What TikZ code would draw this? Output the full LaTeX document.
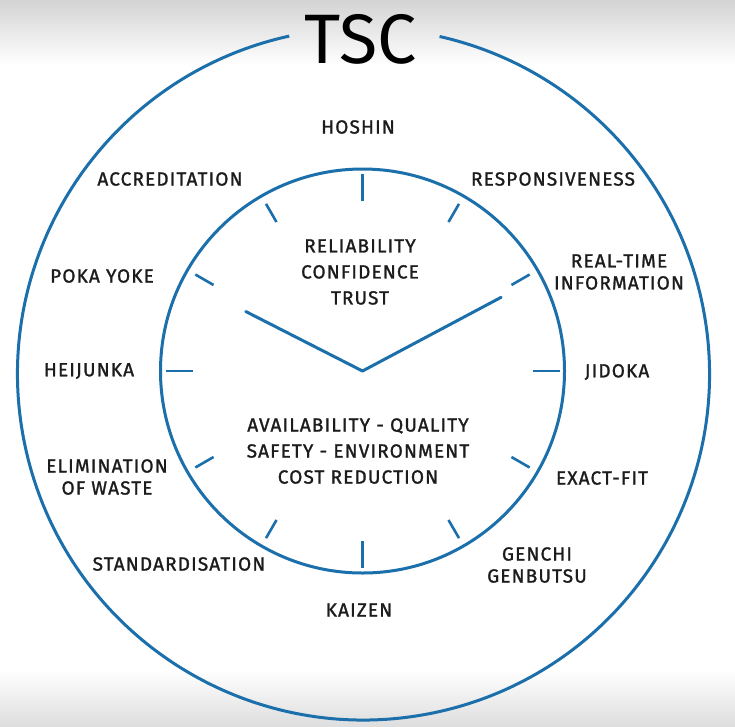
\documentclass[tikz,border=0pt]{standalone}
\usepackage{fontspec}
\setmainfont{Fira Sans}
\newfontfamily\lblfont{Fira Sans}[LetterSpace=6,FakeBold=1.3]
\newfontfamily\tscfont{Fira Sans}
\definecolor{ringblue}{HTML}{1B6FAA}
\definecolor{txt}{HTML}{1C1C1C}
\begin{document}
\begin{tikzpicture}[x=1pt,y=-1pt,
  lbl/.style={font=\lblfont\fontsize{19}{22}\selectfont,text=txt,align=center,inner sep=0pt},
  inlbl/.style={lbl,font=\lblfont\fontsize{19}{26}\selectfont},
  ring/.style={draw=ringblue,line width=3pt},
  hand/.style={draw=ringblue,line width=3pt,line join=round,line cap=round},
  tickmark/.style={draw=ringblue,line width=2.6pt}]
\useasboundingbox (0,0) rectangle (735,726);
\shade[top color=black!17,bottom color=white] (0,0) rectangle (735,65);
\fill[white] (0,65) rectangle (735,670);
\shade[top color=white,bottom color=black!13] (0,670) rectangle (735,726);

\coordinate (oc) at (363.5,374);
\coordinate (ic) at (362.5,371);
% outer ring with gap for title
\draw[ring] (oc) ++(-102.4:346) arc[start angle=-102.4,end angle=-437.3,radius=346];
% inner dial
\draw[ring] (ic) circle[radius=202];
\foreach \a in {0,90,180,270}
  \draw[tickmark] ([shift={(\a:170)}]ic) -- ([shift={(\a:197)}]ic);
\foreach \a in {30,60,120,150,210,240,300,330}
  \draw[tickmark] ([shift={(\a:172)}]ic) -- ([shift={(\a:193)}]ic);
% hands
\draw[hand] ([shift={(-153:131)}]ic) -- (ic) -- ([shift={(-28:157)}]ic);

% title
\node[inner sep=0pt,text=black] (tsc) at (360.5,39) {\tscfont\fontsize{70}{70}\selectfont TSC};

% outer labels
\node[lbl] (hoshin) at (358,127) {HOSHIN};
\node[lbl] (resp) at (553,179) {RESPONSIVENESS};
\node[lbl] (accr) at (170,179) {ACCREDITATION};
\node[lbl] (rti) at (619,272) {REAL-TIME\\INFORMATION};
\node[lbl] (poka) at (102,276) {POKA YOKE};
\node[lbl] (heij) at (89,371) {HEIJUNKA};
\node[lbl] (jidoka) at (617,372) {JIDOKA};
\node[lbl] (elim) at (107,477) {ELIMINATION\\OF WASTE};
\node[lbl] (exact) at (602,478) {EXACT-FIT};
\node[lbl] (stand) at (179,564) {STANDARDISATION};
\node[lbl] (genchi) at (537,565) {GENCHI\\GENBUTSU};
\node[lbl] (kaizen) at (359,610) {KAIZEN};

% inner labels
\node[inlbl] (rel) at (360,272) {RELIABILITY\\CONFIDENCE\\TRUST};
\node[inlbl] (avail) at (358,451) {AVAILABILITY - QUALITY\\SAFETY - ENVIRONMENT\\COST REDUCTION};
\end{tikzpicture}
\end{document}
